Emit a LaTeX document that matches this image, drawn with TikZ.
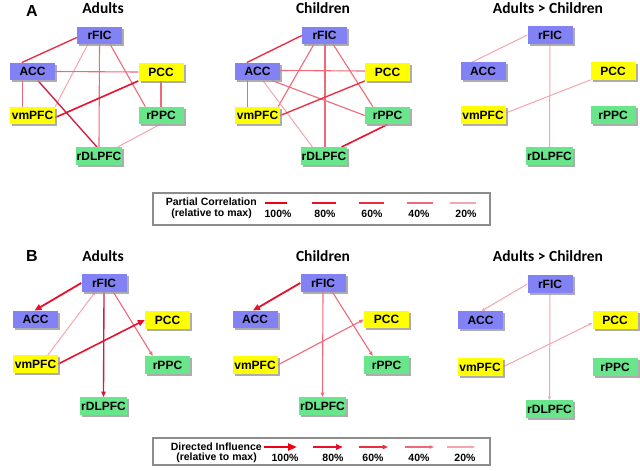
\documentclass[tikz,border=0pt]{standalone}
\usepackage{fontspec}
\setmainfont{Liberation Sans}
\newfontfamily\titlefont{Carlito}
\usetikzlibrary{shadows,arrows.meta,calc}
\definecolor{nblue}{RGB}{130,130,245}
\definecolor{nyellow}{RGB}{255,255,0}
\definecolor{ngreen}{RGB}{105,230,140}
\definecolor{c100}{RGB}{238,0,20}
\definecolor{c80}{RGB}{232,16,45}
\definecolor{c60}{RGB}{232,45,65}
\definecolor{c40}{RGB}{240,105,120}
\definecolor{c20}{RGB}{245,165,175}
\definecolor{cdark}{RGB}{205,30,65}
\pgfdeclarelayer{bg}
\pgfdeclarelayer{edgelayer}
\pgfsetlayers{bg,edgelayer,main}
\tikzset{
  box/.style={minimum width=45pt, minimum height=17.5pt, inner xsep=1pt, inner ysep=0pt,
    font=\bfseries\fontsize{12}{12}\selectfont,
    drop shadow={shadow xshift=2pt, shadow yshift=-2pt, fill=black!40, opacity=0.8}},
  bl/.style={box, fill=nblue},
  ye/.style={box, fill=nyellow},
  gr/.style={box, fill=ngreen},
  ttl/.style={font=\titlefont\bfseries\fontsize{15.5}{16}\selectfont},
  lbl/.style={font=\bfseries\fontsize{16}{16}\selectfont},
  leg/.style={font=\bfseries\fontsize{10.5}{11}\selectfont, inner sep=0pt},
  % legend line weights
  w100/.style={draw=c100, line width=2.4pt},
  w80/.style={draw=c80, line width=2.0pt},
  w60/.style={draw=c60, line width=1.7pt},
  w40/.style={draw=c40, line width=1.3pt},
  w20/.style={draw=c20, line width=1.3pt},
  a100/.style={w100, -{Triangle[length=9pt,width=7pt]}},
  a80/.style={w80, -{Triangle[length=7pt,width=5.5pt]}},
  a60/.style={w60, -{Triangle[length=5.5pt,width=4.5pt]}},
  a40/.style={w40, -{Triangle[length=4.5pt,width=3.5pt]}},
  a20/.style={w20, -{Triangle[length=3.5pt,width=3pt]}},
  % diagram line weights
  d80/.style={draw=c80, line width=1.6pt},
  d60/.style={draw=c60, line width=1.35pt},
  d40/.style={draw=c40, line width=1.1pt},
  d20/.style={draw=c20, line width=1.0pt},
  da80/.style={d80, line width=1.8pt, -{Triangle[length=7pt,width=6pt]}},
  da60/.style={d60, -{Triangle[length=5.5pt,width=4.5pt]}},
  da40/.style={d40, -{Triangle[length=4.5pt,width=3.5pt]}},
  da20/.style={d20, -{Triangle[length=3.5pt,width=3pt]}},
  frame/.style={draw=black!45, line width=1.2pt, inner sep=0pt}
}
\begin{document}
\begin{tikzpicture}[x=1pt,y=-1pt]
\begin{pgfonlayer}{bg}
\fill[white] (0,0) rectangle (640,471);
\end{pgfonlayer}
\useasboundingbox (0,0) rectangle (640,471);

% ---------- Panel A ----------
\node[lbl] (labA) at (32,10.5) {A};
\node[ttl] (tAA) at (103,8.5) {Adults};
\node[ttl] (tAC) at (323,8.5) {Children};
\node[ttl] (tAD) at (548,8.5) {Adults > Children};

% Adults
\node[bl] (aArFIC) at (99.5,35.5) {rFIC};
\node[bl] (aAACC) at (32.5,71.5) {ACC};
\node[ye] (aAPCC) at (161,72) {PCC};
\node[ye] (aAvmPFC) at (32.5,115.5) {vmPFC};
\node[gr] (aArPPC) at (161,115.5) {rPPC};
\node[gr] (aArDLPFC) at (99,156) {rDLPFC};
% Children
\node[bl] (cArFIC) at (324.5,35.5) {rFIC};
\node[bl] (cAACC) at (257.5,71.5) {ACC};
\node[ye] (cAPCC) at (387.5,72) {PCC};
\node[ye] (cAvmPFC) at (257.5,115.5) {vmPFC};
\node[gr] (cArPPC) at (387.5,115.5) {rPPC};
\node[gr] (cArDLPFC) at (324,156) {rDLPFC};
% Adults > Children
\node[bl] (dArFIC) at (550,35) {rFIC};
\node[bl] (dAACC) at (483,71) {ACC};
\node[ye] (dAPCC) at (613,71) {PCC};
\node[ye] (dAvmPFC) at (483,115) {vmPFC};
\node[gr] (dArPPC) at (613,115) {rPPC};
\node[gr] (dArDLPFC) at (549.5,156) {rDLPFC};

% Legend A
\node[frame, minimum width=337pt, minimum height=32pt] (legA) at (321.5,209) {};
\node[leg, anchor=east] (legAt1) at (257,202) {Partial Correlation};
\node[leg, anchor=east] (legAt2) at (252,214) {(relative to max)};
\coordinate (pa1) at (265,203); \coordinate (pb1) at (287,203);
\coordinate (pa2) at (312,203); \coordinate (pb2) at (336,203);
\coordinate (pa3) at (359,203); \coordinate (pb3) at (384,203);
\coordinate (pa4) at (407,203); \coordinate (pb4) at (433,203);
\coordinate (pa5) at (450,203); \coordinate (pb5) at (476,203);
\node[leg] (pl1) at (278,214) {100\%};
\node[leg] (pl2) at (325,214) {80\%};
\node[leg] (pl3) at (372,214) {60\%};
\node[leg] (pl4) at (419,214) {40\%};
\node[leg] (pl5) at (466,214) {20\%};

% ---------- Panel B ----------
\node[lbl] (labB) at (32,256) {B};
\node[ttl] (tBA) at (103,256) {Adults};
\node[ttl] (tBC) at (323,256) {Children};
\node[ttl] (tBD) at (548,256) {Adults > Children};

\node[bl] (bArFIC) at (104,283) {rFIC};
\node[bl] (bAACC) at (35.5,319.5) {ACC};
\node[ye] (bAPCC) at (167.5,320) {PCC};
\node[ye] (bAvmPFC) at (35.5,364) {vmPFC};
\node[gr] (bArPPC) at (167.5,365) {rPPC};
\node[gr] (bArDLPFC) at (103.5,406) {rDLPFC};

\node[bl] (bCrFIC) at (323,283) {rFIC};
\node[bl] (bCACC) at (255,319.5) {ACC};
\node[ye] (bCPCC) at (386.5,319.5) {PCC};
\node[ye] (bCvmPFC) at (255,365) {vmPFC};
\node[gr] (bCrPPC) at (386.5,365) {rPPC};
\node[gr] (bCrDLPFC) at (322.5,406) {rDLPFC};

\node[bl] (bDrFIC) at (550,284) {rFIC};
\node[bl] (bDACC) at (480.5,320) {ACC};
\node[ye] (bDPCC) at (615,320) {PCC};
\node[ye] (bDvmPFC) at (480,367) {vmPFC};
\node[gr] (bDrPPC) at (615,367) {rPPC};
\node[gr] (bDrDLPFC) at (549.5,409) {rDLPFC};

% Legend B
\node[frame, minimum width=337pt, minimum height=27pt] (legB) at (321.5,451.5) {};
\node[leg, anchor=east] (legBt1) at (262,446.5) {Directed Influence};
\node[leg, anchor=east] (legBt2) at (257,458) {(relative to max)};
\coordinate (qa1) at (264,447); \coordinate (qb1) at (297,447);
\coordinate (qa2) at (313,447); \coordinate (qb2) at (343,447);
\coordinate (qa3) at (359,447); \coordinate (qb3) at (388,447);
\coordinate (qa4) at (405,447); \coordinate (qb4) at (434,447);
\coordinate (qa5) at (447,447); \coordinate (qb5) at (475,447);
\node[leg] (ql1) at (285,458) {100\%};
\node[leg] (ql2) at (333,458) {80\%};
\node[leg] (ql3) at (373,458) {60\%};
\node[leg] (ql4) at (419,458) {40\%};
\node[leg] (ql5) at (465,458) {20\%};

% ---------- Edges ----------
\begin{pgfonlayer}{edgelayer}
% A adults
\draw[d60] ($(aArFIC.west)+(0,2)$) -- ($(aAACC.north west)+(12,0)$);
\draw[d20] ($(aArFIC.south west)+(11,0)$) -- (aAvmPFC.north east);
\draw[d40] (aArFIC.south) -- (aArDLPFC.north);
\draw[d40] ($(aArFIC.south east)+(-12,0)$) -- ($(aArPPC.north west)+(7,0)$);
\draw[d40] (aAACC.east) -- (aAPCC.west);
\draw[d40] ($(aAACC.south west)+(13,0)$) -- ($(aAvmPFC.north west)+(13,0)$);
\draw[d60, draw=cdark] ($(aAACC.south west)+(28,0)$) -- ($(aArDLPFC.north)+(-2,0)$);
\draw[d80] (aAPCC.south west) -- ($(aAvmPFC.east)+(0,2)$);
\draw[d40] (aAPCC.south) -- (aArPPC.north);
\draw[d20] ($(aArPPC.south)+(-1,0)$) -- ($(aArDLPFC.north east)+(-5,0)$);
% A children
\draw[d60] (cArFIC.west) -- ($(cAACC.north west)+(12,0)$);
\draw[d40] ($(cArFIC.south west)+(12,0)$) -- ($(cAvmPFC.north east)+(-2,0)$);
\draw[d40] ($(cArFIC.south)+(0.5,0)$) -- ($(cArDLPFC.north)+(1,0)$);
\draw[d40] ($(cArFIC.south east)+(-14,0)$) -- ($(cArPPC.north west)+(8,0)$);
\draw[d40] ($(cAACC.east)+(0,-1)$) -- ($(cAPCC.west)+(0,-1)$);
\draw[d40] ($(cAACC.south west)+(13,0)$) -- ($(cAvmPFC.north west)+(13,0)$);
\draw[d20] ($(cAACC.south west)+(28,0)$) -- ($(cArDLPFC.north west)+(12,0)$);
\draw[d40] ($(cAACC.south west)+(37,0)$) -- (cArPPC.west);
\draw[d60] (cAPCC.south west) -- (cAvmPFC.east);
\draw[d80] (cArPPC.south) -- ($(cArDLPFC.north east)+(-6,0)$);
% A diff
\draw[d20] (dArFIC.west) -- ($(dAACC.north west)+(12,0)$);
\draw[d20] (dArFIC.south) -- (dArDLPFC.north);
\draw[d20] (dAPCC.south west) -- ($(dAvmPFC.east)+(0,-2)$);
% Legend A samples
\draw[w100] (pa1) -- (pb1);
\draw[w80] (pa2) -- (pb2);
\draw[w60] (pa3) -- (pb3);
\draw[w40] (pa4) -- (pb4);
\draw[w20] (pa5) -- (pb5);
% B adults
\draw[da80] (bArFIC.west) -- ($(bAACC.north)+(-1,0)$);
\draw[da20] ($(bAvmPFC.north west)+(35,0)$) -- ($(bArFIC.south west)+(14,0)$);
\draw[da60, draw=cdark] (bArFIC.south) -- (bArDLPFC.north);
\draw[da40] ($(bArFIC.south west)+(32,0)$) -- ($(bArPPC.north west)+(8,0)$);
\draw[da80, line width=1.6pt] (bAvmPFC.east) -- (bAPCC.west);
% B children
\draw[da80] (bCrFIC.west) -- ($(bCACC.north)+(-2,0)$);
\draw[da40] (bCrFIC.south) -- (bCrDLPFC.north);
\draw[da40] ($(bCrFIC.south west)+(32,0)$) -- ($(bCrPPC.north west)+(9,0)$);
\draw[da40] (bCvmPFC.east) -- (bCPCC.west);
% B diff
\draw[da20] (bDrFIC.west) -- ($(bDACC.north)+(1,0)$);
\draw[da20] (bDrFIC.south) -- (bDrDLPFC.north);
\draw[da20] (bDvmPFC.east) -- ($(bDPCC.west)+(0,3)$);
% Legend B samples
\draw[a100] (qa1) -- (qb1);
\draw[a80] (qa2) -- (qb2);
\draw[a60] (qa3) -- (qb3);
\draw[a40] (qa4) -- (qb4);
\draw[a20] (qa5) -- (qb5);
\end{pgfonlayer}
\end{tikzpicture}
\end{document}
